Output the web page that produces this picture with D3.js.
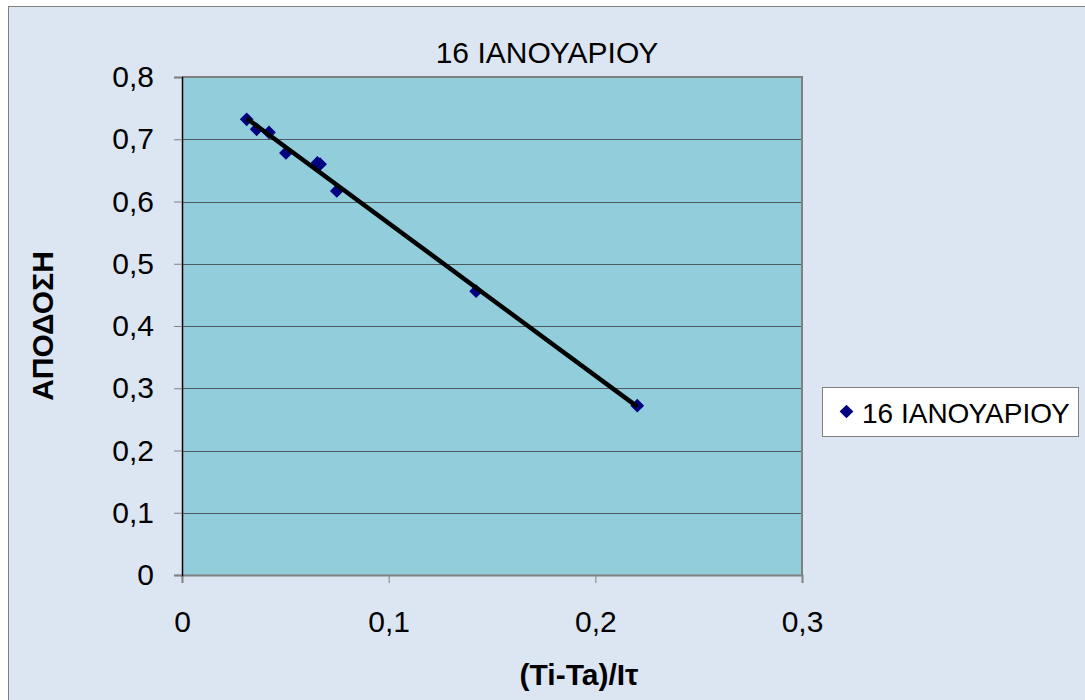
<!DOCTYPE html>
<html><head><meta charset="utf-8">
<script src="https://cdn.jsdelivr.net/npm/d3@7"></script>
<style>body{margin:0;background:#fff}svg{display:block;font-family:"Liberation Sans",Arial,sans-serif}</style>
</head><body>
<script>
const titleText = "16 ΙΑΝΟΥΑΡΙΟΥ";
const seriesName = "16 ΙΑΝΟΥΑΡΙΟΥ";
const xTitle = "(Ti-Ta)/Iτ";
const yTitle = "ΑΠΟΔΟΣΗ";
const xValues = [0.0313, 0.0361, 0.0421, 0.0503, 0.0655, 0.0668, 0.0749, 0.1423, 0.2203];
const yValues = [0.732, 0.716, 0.711, 0.678, 0.662, 0.660, 0.617, 0.456, 0.272];
const xTicks = [0, 0.1, 0.2, 0.3];
const yTicks = [0, 0.1, 0.2, 0.3, 0.4, 0.5, 0.6, 0.7, 0.8];

const W = 1085, H = 700;
const plot = {l: 182, r: 802, t: 77, b: 575};
const fmt = d => String(d).replace(".", ",");
const FONT = "Liberation Sans, Arial, sans-serif";

const svg = d3.select("body").append("svg").attr("width", W).attr("height", H);
svg.append("rect").attr("x", 8.5).attr("y", 6.5).attr("width", W).attr("height", H)
  .attr("fill", "#dce6f2").attr("stroke", "#7f7f7f").attr("stroke-width", 1);

const x = d3.scaleLinear().domain([0, 0.3]).range([plot.l, plot.r]);
const y = d3.scaleLinear().domain([0, 0.8]).range([plot.b, plot.t]);

svg.append("rect").attr("x", plot.l).attr("y", plot.t).attr("width", plot.r - plot.l).attr("height", plot.b - plot.t)
  .attr("fill", "#92cddc");

// gridlines
svg.append("g").selectAll("line").data(yTicks.filter(d => d > 0 && d < 0.8)).join("line")
  .attr("x1", plot.l).attr("x2", plot.r).attr("y1", d => Math.round(y(d)) + 0.5).attr("y2", d => Math.round(y(d)) + 0.5)
  .attr("stroke", "#4d5a60").attr("stroke-width", 1);

// plot border top/right
svg.append("path").attr("d", `M${plot.l},${plot.t}H${plot.r}V${plot.b}`).attr("fill", "none")
  .attr("stroke", "#808080").attr("stroke-width", 2);

// axes
const xAxis = svg.append("g").attr("transform", `translate(0,${plot.b})`)
  .call(d3.axisBottom(x).tickValues(xTicks).tickFormat(fmt).tickSize(8).tickPadding(28));
xAxis.select(".domain").attr("stroke", "#808080").attr("stroke-width", 2);
xAxis.selectAll(".tick line").attr("stroke", "#808080");
xAxis.selectAll("text").attr("font-size", 30).attr("fill", "#000").attr("font-family", FONT);

const yAxis = svg.append("g").attr("transform", `translate(${plot.l},0)`)
  .call(d3.axisLeft(y).tickValues(yTicks).tickFormat(fmt).tickSize(8).tickPadding(20));
yAxis.select(".domain").attr("stroke", "#000").attr("stroke-width", 1.5);
yAxis.selectAll(".tick line").attr("stroke", "#808080");
yAxis.selectAll("text").attr("font-size", 30).attr("fill", "#000").attr("font-family", FONT);

// trend line (least squares)
const mx = d3.mean(xValues), my = d3.mean(yValues);
const slope = d3.sum(xValues.map((v, i) => (v - mx) * (yValues[i] - my))) / d3.sum(xValues.map(v => (v - mx) ** 2));
const icpt = my - slope * mx;
const x0 = d3.min(xValues), x1 = d3.max(xValues);

// points
const diamond = d3.symbol().type(d3.symbolDiamond2).size(120);
svg.append("g").selectAll("path").data(xValues.map((v, i) => [v, yValues[i]])).join("path")
  .attr("d", diamond).attr("transform", d => `translate(${x(d[0])},${y(d[1])})`)
  .attr("fill", "#000080");

svg.append("line").attr("x1", x(x0)).attr("y1", y(icpt + slope * x0)).attr("x2", x(x1)).attr("y2", y(icpt + slope * x1))
  .attr("stroke", "#000").attr("stroke-width", 4.5);

// title
svg.append("text").attr("x", 547).attr("y", 63).attr("text-anchor", "middle").attr("font-size", 30).text(titleText);
// axis titles
svg.append("text").attr("x", 579).attr("y", 685).attr("text-anchor", "middle").attr("font-size", 30).attr("font-weight", "bold").text(xTitle);
svg.append("text").attr("transform", "translate(53,326) rotate(-90)").attr("text-anchor", "middle").attr("font-size", 30).attr("font-weight", "bold").text(yTitle);

// legend
const lg = svg.append("g");
lg.append("rect").attr("x", 822.5).attr("y", 387.5).attr("width", 256).attr("height", 49).attr("fill", "#fff").attr("stroke", "#7f7f7f");
lg.append("path").attr("d", diamond).attr("transform", "translate(846.5,411.5)").attr("fill", "#000080");
lg.append("text").attr("x", 862).attr("y", 423).attr("font-size", 28).text(seriesName);
</script>
</body></html>
